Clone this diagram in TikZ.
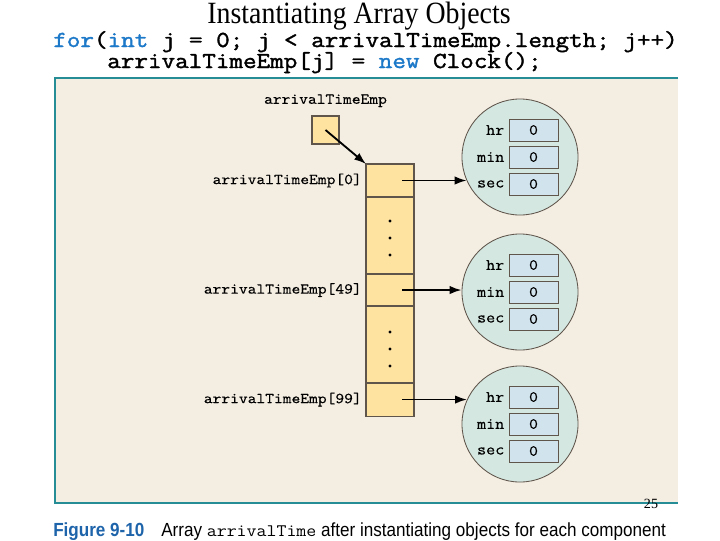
\documentclass[tikz,border=0pt]{standalone}
\usepackage{fontspec}
\setmainfont{Liberation Serif}
\newfontfamily\titlefont[FakeStretch=0.9]{Liberation Serif}
\newfontfamily\capfont[FakeStretch=0.9]{Liberation Sans}
\newfontfamily\codefont[FakeStretch=1.15,FakeBold=1.6]{Latin Modern Mono}
\newfontfamily\lblfont[FakeStretch=1.1,FakeBold=0.3]{Latin Modern Mono}
\newfontfamily\capmono[FakeStretch=1.1]{Latin Modern Mono}
\usepackage{xcolor}
\usetikzlibrary{arrows.meta,positioning}

\definecolor{panelbg}{RGB}{244,237,226}
\definecolor{panelline}{RGB}{38,140,150}
\definecolor{cellfill}{RGB}{253,226,160}
\definecolor{clockfill}{RGB}{212,231,225}
\definecolor{fieldfill}{RGB}{209,227,236}
\definecolor{keyword}{RGB}{28,120,200}
\definecolor{figblue}{RGB}{30,100,170}
\definecolor{edge}{RGB}{95,85,75}

\begin{document}
\begin{tikzpicture}[>={Latex[length=8.5pt,width=6pt]},x=0.025cm,y=-0.025cm,
    cell/.style={draw=edge,fill=cellfill,line width=0.8pt,minimum width=1.2cm,inner sep=0pt,outer sep=0pt},
    ptrbox/.style={draw=edge,fill=cellfill,line width=0.8pt,minimum width=0.675cm,minimum height=0.7cm,inner sep=0pt},
    clock/.style={circle,draw=edge,fill=clockfill,line width=0.6pt,minimum size=2.9cm,inner sep=0pt},
    field/.style={draw=edge,fill=fieldfill,line width=0.6pt,minimum width=1.225cm,minimum height=0.55cm,inner sep=0pt,font=\lblfont\fontsize{11}{13}\selectfont},
    fname/.style={inner sep=0pt,font=\lblfont\fontsize{11.4}{13}\selectfont},
    lbl/.style={inner sep=0pt,font=\lblfont\fontsize{10.8}{13}\selectfont},
    code/.style={anchor=base west,inner sep=0pt,font=\codefont\fontsize{16.3}{20}\selectfont},
    link/.style={->,line width=1.3pt}]
  % background and frame
  \path[use as bounding box,fill=white] (0,0) rectangle (720,540);
  \fill[panelbg] (55,78) rectangle (678,503);
  \draw[panelline,line width=1.6pt] (678,78) -- (55,78) -- (55,503) -- (678,503);
  % heading and code
  \node[anchor=base,inner sep=0pt,font=\titlefont\fontsize{22}{26}\selectfont] (title) at (359,23) {Instantiating Array Objects};
  \node[code] (line1) at (53,47) {\textcolor{keyword}{for}(\textcolor{keyword}{int} j = 0; j < arrivalTimeEmp.length; j++)};
  \node[code] (line2) at (107,68) {arrivalTimeEmp[j] = \textcolor{keyword}{new} Clock();};
  % reference variable
  \node[ptrbox] (ptr) at (325.5,130) {};
  \node[lbl,above=0.2cm of ptr] (ptrname) {arrivalTimeEmp};
  % the array
  \node[cell,minimum height=0.825cm] (cell0) at (390,180.5) {};
  \node[cell,minimum height=1.925cm,below=0pt of cell0] (gapA) {};
  \node[cell,minimum height=0.8cm,below=0pt of gapA] (cell49) {};
  \node[cell,minimum height=1.925cm,below=0pt of cell49] (gapB) {};
  \node[cell,minimum height=0.825cm,below=0pt of gapB] (cell99) {};
  \foreach \y in {221,238,255,332,349,366}
    \fill (390,\y) circle (1.1pt);
  \node[lbl,left=0.1cm of cell0] (name0) {arrivalTimeEmp[0]};
  \node[lbl,left=0.1cm of cell49] (name49) {arrivalTimeEmp[49]};
  \node[lbl,left=0.1cm of cell99] (name99) {arrivalTimeEmp[99]};
  % the Clock objects
  \foreach \n/\y in {0/157,1/292,2/424} {
    \node[clock] (clk\n) at (520,\y) {};
    \node[field] (hr\n) at (533.5,\y-27) {0};
    \node[field] (min\n) at (533.5,\y) {0};
    \node[field] (sec\n) at (533.5,\y+27) {0};
    \node[fname,left=0.1cm of hr\n] (hrname\n) {hr};
    \node[fname,left=0.1cm of min\n] (minname\n) {min};
    \node[fname,left=0.1cm of sec\n] (secname\n) {sec};
  }
  % references
  \draw[link] (ptr.center) -- (cell0.north west);
  \draw[link,shorten <=0.3cm] (cell0.center) -- (cell0.center -| clk0.204);
  \draw[link,shorten <=0.3cm] (cell49.center) -- (cell49.center -| clk1.west);
  \draw[link,shorten <=0.3cm] (cell99.center) -- (cell99.center -| clk2.155);
  % caption
  \node[inner sep=0pt,font=\fontsize{10}{12}\selectfont] (pagenum) at (651,504) {25};
  \node[anchor=base west,inner sep=0pt,text=figblue,font=\capfont\bfseries\fontsize{13.5}{16}\selectfont] (fignum) at (53,536) {Figure 9-10};
  \node[anchor=base west,inner sep=0pt,font=\capfont\fontsize{13.5}{16}\selectfont] (figtext) at (161,536) {Array {\capmono\fontsize{12.5}{16}\selectfont arrivalTime} after instantiating objects for each component};
\end{tikzpicture}
\end{document}
